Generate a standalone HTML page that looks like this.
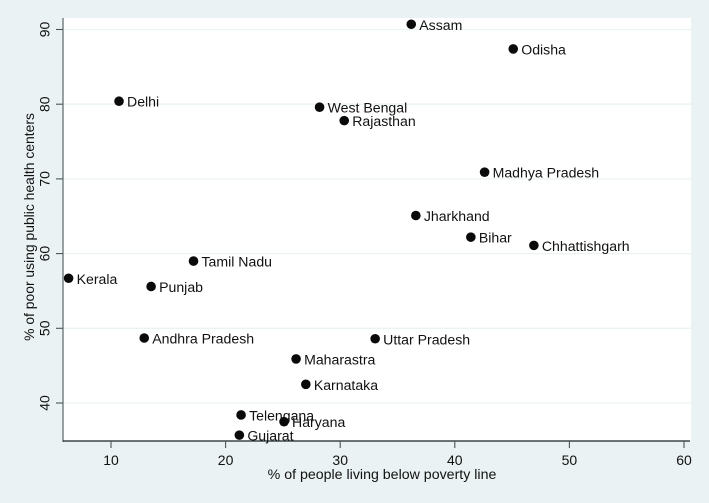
<!DOCTYPE html>
<html>
<head>
<meta charset="utf-8">
<style>
html,body{margin:0;padding:0;background:#eaf2f3;}
svg{display:block;font-family:"Liberation Sans",Arial,sans-serif;fill:#111;}
</style>
</head>
<body>
<svg id="chart" width="709" height="503" viewBox="0 0 709 503" xmlns="http://www.w3.org/2000/svg">
<rect x="0" y="0" width="709" height="503" fill="#eaf2f3"/>
<rect x="63" y="18" width="628" height="423" fill="#ffffff"/>
<g id="grid"></g>
<line x1="63" y1="18" x2="63" y2="442" stroke="#7f8a8c" stroke-width="1.6"/>
<line x1="63" y1="441" x2="690" y2="441" stroke="#1a2226" stroke-width="1.2"/>
<g id="axes"></g>
<g id="marks"></g>
<text x="382" y="479" font-size="14.2" text-anchor="middle">% of people living below poverty line</text>
<text transform="translate(34,227) rotate(-90)" font-size="13.9" text-anchor="middle">% of poor using public health centers</text>
</svg>
<script>
const states = ["Assam","Odisha","Delhi","West Bengal","Rajasthan","Madhya Pradesh","Jharkhand","Bihar","Chhattishgarh","Tamil Nadu","Kerala","Punjab","Andhra Pradesh","Uttar Pradesh","Maharastra","Karnataka","Telengana","Haryana","Gujarat"];
const povertyValues = [36.2,45.1,10.7,28.2,30.35,42.6,36.6,41.4,46.9,17.2,6.3,13.5,12.9,33.05,26.15,27,21.35,25.1,21.2];
const publicHealthValues = [90.7,87.4,80.4,79.6,77.8,70.9,65.1,62.2,61.1,59,56.7,55.6,48.7,48.6,45.9,42.5,38.4,37.5,35.7];
const xTicks = [10,20,30,40,50,60];
const yTicks = [40,50,60,70,80,90];

function xScale(v){return 111 + (v-10)*11.46;}
function yScale(v){return 403 - (v-40)*7.47;}

const NS = "http://www.w3.org/2000/svg";
function make(parent, tag, attrs, text){
  const el = document.createElementNS(NS, tag);
  for (const k in attrs) el.setAttribute(k, attrs[k]);
  if (text !== undefined) el.textContent = text;
  parent.appendChild(el);
  return el;
}
const grid = document.getElementById('grid');
const axes = document.getElementById('axes');
const marks = document.getElementById('marks');

yTicks.forEach(function(t){
  const y = yScale(t);
  const g = make(grid, 'line', {x1:64, x2:691, y1:y, y2:y, stroke:'#eaf2f3', 'stroke-width':1.3});
  
  
  const tk = make(axes, 'line', {x1:56, x2:63, y1:y, y2:y, stroke:'#4a5458', 'stroke-width':1.1});
  
  
  const lb = make(axes, 'text', {transform:'translate(49.5,'+y+') rotate(-90)', 'font-size':14, 'text-anchor':'middle'}, String(t));
  
  
});
xTicks.forEach(function(t){
  const x = xScale(t);
  const tk = make(axes, 'line', {x1:x, x2:x, y1:441, y2:448, stroke:'#4a5458', 'stroke-width':1.1});
  
  
  const lb = make(axes, 'text', {x:x, y:465, 'font-size':14, 'text-anchor':'middle'}, String(t));
  
  
});
states.forEach(function(s,i){
  const cx = xScale(povertyValues[i]);
  const cy = yScale(publicHealthValues[i]);
  const c = make(marks, 'circle', {cx:cx, cy:cy, r:4.8, fill:'#0a0a0a'});
  
  
  const l = make(marks, 'text', {x:cx+8, y:cy+5.5, 'font-size':14.1}, s);
  
  
});
</script>
</body>
</html>
